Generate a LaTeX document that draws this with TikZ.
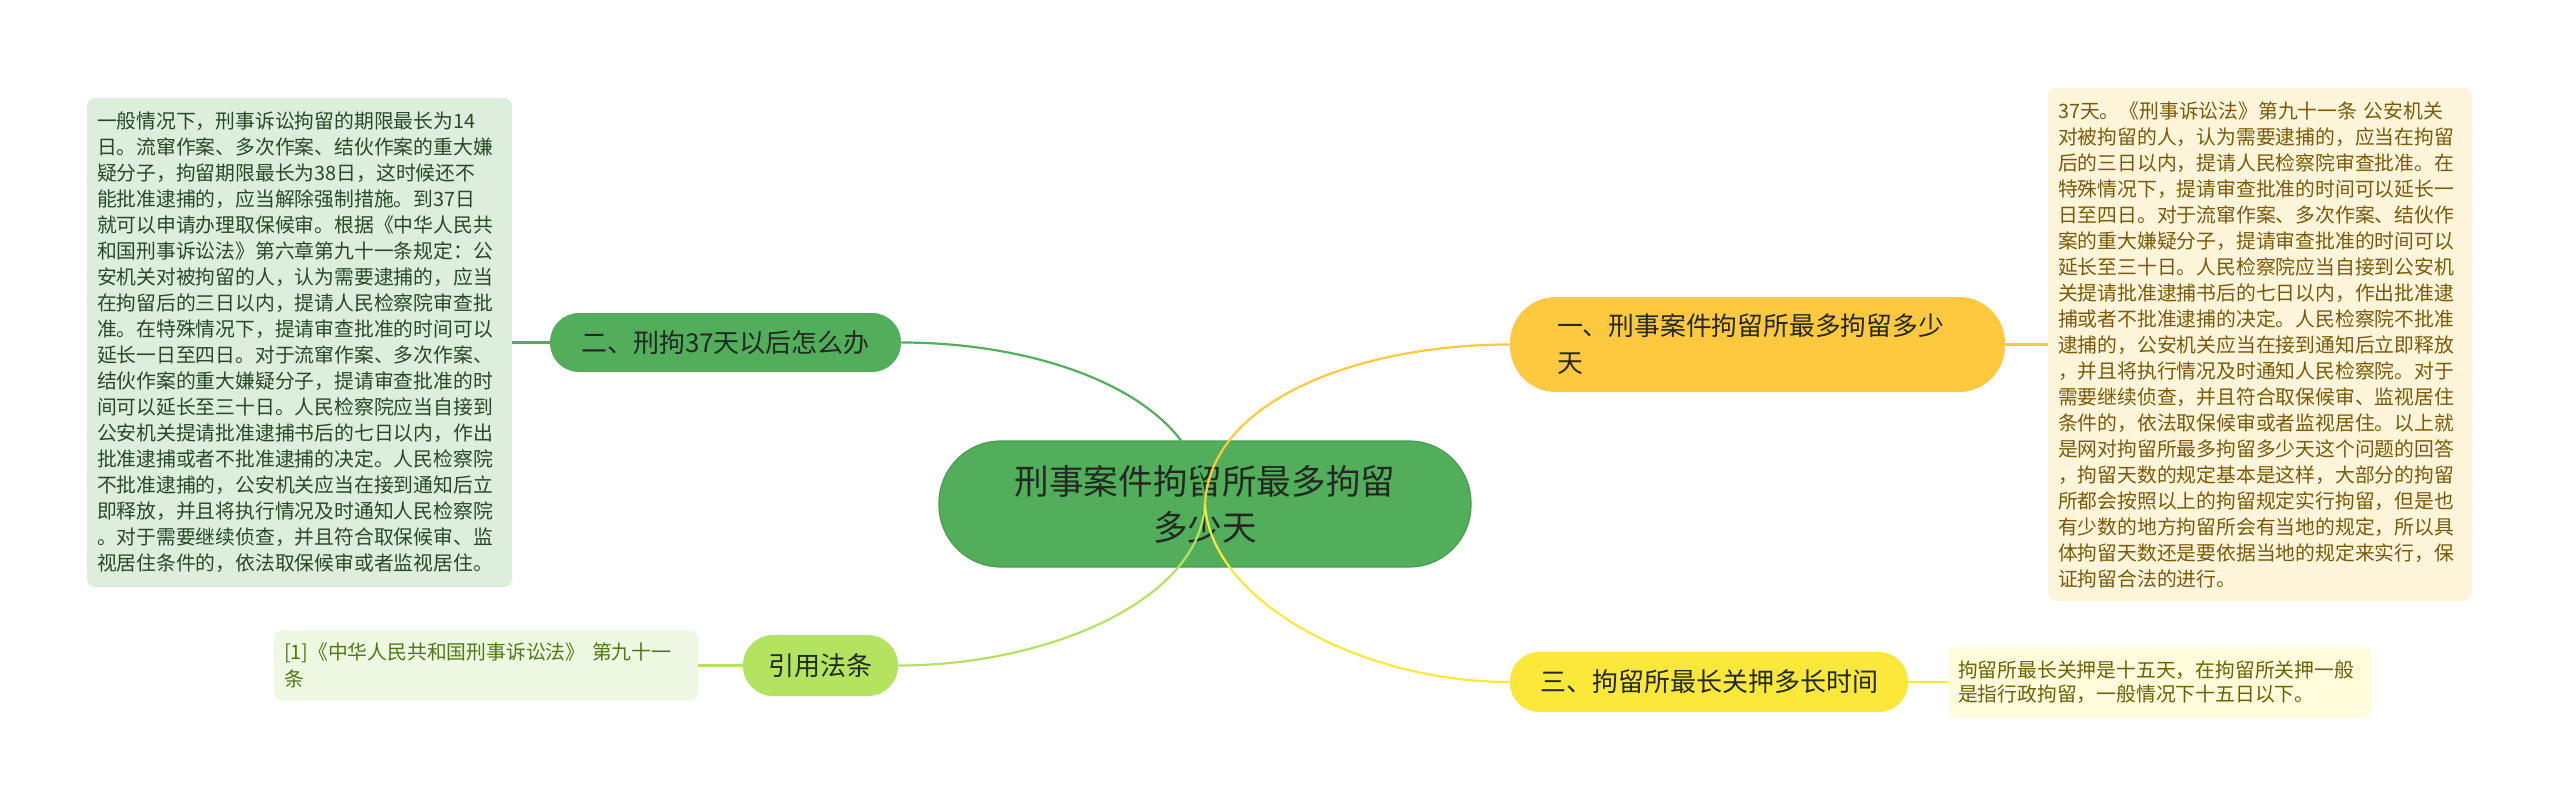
\documentclass[tikz,border=0pt]{standalone}
\usepackage{fontspec}
\usepackage{xcolor}
\usepackage{tikz}
\newfontfamily\cjk{Noto Sans CJK SC}
\definecolor{mapGreen}{HTML}{52AE5B}
\definecolor{mapGreenRule}{HTML}{45A04E}
\definecolor{mapGreenPale}{HTML}{DDEEDC}
\definecolor{mapGreenInk}{HTML}{264A26}
\definecolor{mapLime}{HTML}{B4E35F}
\definecolor{mapLimePale}{HTML}{EEF8E2}
\definecolor{mapLimeInk}{HTML}{4E7A14}
\definecolor{mapAmber}{HTML}{FFC93F}
\definecolor{mapAmberPale}{HTML}{FFF5DA}
\definecolor{mapAmberInk}{HTML}{7A5A08}
\definecolor{mapYellow}{HTML}{FBE83A}
\definecolor{mapYellowPale}{HTML}{FFFBDB}
\definecolor{mapYellowInk}{HTML}{6B6204}
\definecolor{mapInk}{HTML}{222822}

\begin{document}
\begin{tikzpicture}[
  x=.5pt,y=-.5pt,
  topic/.style={rounded corners=14.5pt,draw=none,inner sep=0pt,text=mapInk,
    font=\cjk\fontsize{13}{18}\selectfont},
  leaf/.style={rounded corners=4pt,draw=none,inner xsep=5pt,inner ysep=0pt,align=left,
    font=\cjk\fontsize{9.9}{13}\selectfont},
  link/.style={line width=1.1pt}
]
  \useasboundingbox (0,0) rectangle (2560,805);
  \node[fill=mapGreen,draw=mapGreenRule,line width=.6pt,rounded corners=31pt,
    minimum width=266pt,minimum height=63pt,align=center,text=mapInk,
    font=\cjk\fontsize{17.3}{23}\selectfont] (root) at (1205,504)
    {刑事案件拘留所最多拘留\\多少天};
  \node[topic,fill=mapGreen,minimum width=175.5pt,minimum height=29.5pt] (two) at (725.5,342.5)
    {二、刑拘37天以后怎么办};
  \node[topic,fill=mapAmber,rounded corners=23pt,minimum height=47.5pt,
    text width=200.5pt,inner xsep=23.5pt,align=left,
    font=\cjk\fontsize{12.9}{18.5}\selectfont] (one) at (1757.5,344.5)
    {一、刑事案件拘留所最多拘留多少\\天};
  \node[topic,fill=mapYellow,minimum width=199pt,minimum height=30pt] (three) at (1709,682)
    {三、拘留所最长关押多长时间};
  \node[topic,fill=mapLime,rounded corners=15pt,minimum width=77.5pt,minimum height=30.5pt] (cite) at (820.5,665.5)
    {引用法条};

  \node[leaf,fill=mapGreenPale,text=mapGreenInk,text width=202.5pt,minimum height=244.5pt] (twoText) at (299.5,342.5)
    {一般情况下，刑事诉讼拘留的期限最长为14\\
     日。流窜作案、多次作案、结伙作案的重大嫌\\
     疑分子，拘留期限最长为38日，这时候还不\\
     能批准逮捕的，应当解除强制措施。到37日\\
     就可以申请办理取保候审。根据《中华人民共\\
     和国刑事诉讼法》第六章第九十一条规定：公\\
     安机关对被拘留的人，认为需要逮捕的，应当\\
     在拘留后的三日以内，提请人民检察院审查批\\
     准。在特殊情况下，提请审查批准的时间可以\\
     延长一日至四日。对于流窜作案、多次作案、\\
     结伙作案的重大嫌疑分子，提请审查批准的时\\
     间可以延长至三十日。人民检察院应当自接到\\
     公安机关提请批准逮捕书后的七日以内，作出\\
     批准逮捕或者不批准逮捕的决定。人民检察院\\
     不批准逮捕的，公安机关应当在接到通知后立\\
     即释放，并且将执行情况及时通知人民检察院\\
     。对于需要继续侦查，并且符合取保候审、监\\
     视居住条件的，依法取保候审或者监视居住。};
  \node[leaf,fill=mapAmberPale,text=mapAmberInk,text width=202pt,minimum height=256.5pt] (oneText) at (2260,344.5)
    {37天。《刑事诉讼法》第九十一条 公安机关\\
     对被拘留的人，认为需要逮捕的，应当在拘留\\
     后的三日以内，提请人民检察院审查批准。在\\
     特殊情况下，提请审查批准的时间可以延长一\\
     日至四日。对于流窜作案、多次作案、结伙作\\
     案的重大嫌疑分子，提请审查批准的时间可以\\
     延长至三十日。人民检察院应当自接到公安机\\
     关提请批准逮捕书后的七日以内，作出批准逮\\
     捕或者不批准逮捕的决定。人民检察院不批准\\
     逮捕的，公安机关应当在接到通知后立即释放\\
     ，并且将执行情况及时通知人民检察院。对于\\
     需要继续侦查，并且符合取保候审、监视居住\\
     条件的，依法取保候审或者监视居住。以上就\\
     是网对拘留所最多拘留多少天这个问题的回答\\
     ，拘留天数的规定基本是这样，大部分的拘留\\
     所都会按照以上的拘留规定实行拘留，但是也\\
     有少数的地方拘留所会有当地的规定，所以具\\
     体拘留天数还是要依据当地的规定来实行，保\\
     证拘留合法的进行。};
  \node[leaf,fill=mapLimePale,text=mapLimeInk,text width=202pt,minimum height=35.5pt,
    font=\cjk\fontsize{9.9}{13.5}\selectfont] (citeText) at (486,665.5)
    {[1]《中华人民共和国刑事诉讼法》 第九十一\\条};
  \node[leaf,fill=mapYellowPale,text=mapYellowInk,text width=201.5pt,minimum height=35.5pt,
    font=\cjk\fontsize{9.9}{12}\selectfont] (threeText) at (2159.5,682)
    {拘留所最长关押是十五天，在拘留所关押一般\\是指行政拘留，一般情况下十五日以下。};

  \draw[link,mapGreen] (root.center) .. controls +(-5,-104) and +(150,0) .. (two.east);
  \draw[link,mapAmber] (root.center) .. controls +(5,-104) and +(-150,0) .. (one.west);
  \draw[link,mapLime] (root.center) .. controls +(-5,96) and +(150,0) .. (cite.east);
  \draw[link,mapYellow] (root.center) .. controls +(5,96) and +(-150,0) .. (three.west);
  \draw[link,mapGreen] (two.west) -- (twoText.east);
  \draw[link,mapAmber] (one.east) -- (oneText.west);
  \draw[link,mapLime] (cite.west) -- (citeText.east);
  \draw[link,mapYellow] (three.east) -- (threeText.west);
\end{tikzpicture}
\end{document}
